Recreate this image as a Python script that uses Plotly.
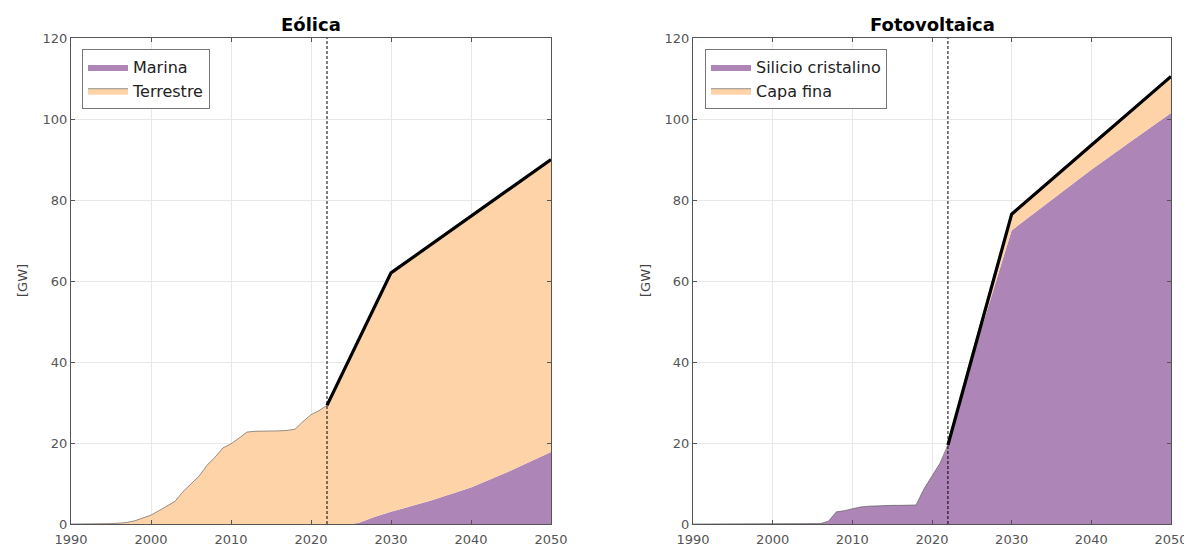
import plotly.graph_objects as go

# ---------------- DATA ----------------
hist_years = list(range(1990, 2023))
future_years_wind = [2025, 2026, 2028, 2030, 2035, 2040, 2045, 2050]
future_years_pv = [2025, 2030, 2035, 2040, 2045, 2050]

wind_onshore_hist = [0, 0, 0, 0, 0.05, 0.1, 0.2, 0.4, 0.8, 1.5,
                     2.2, 3.3, 4.5, 5.6, 8.0, 10.0, 11.8, 14.5, 16.5, 18.8,
                     19.8, 21.2, 22.7, 22.9, 22.9, 22.9, 23.0, 23.1, 23.4, 25.3,
                     27.0, 28.0, 29.3]
wind_offshore_hist = [0] * len(hist_years)
wind_onshore_future = [41.5, 45.3, 52.0, 59.0, 63.2, 67.0, 69.8, 72.2]
wind_offshore_future = [0.0, 0.3, 1.8, 3.0, 5.8, 9.0, 13.2, 17.8]

pv_si_hist = [0] * 16 + [0.1, 0.7, 3.0, 3.3, 3.8, 4.2, 4.4, 4.5, 4.5, 4.6,
                         4.6, 4.6, 4.7, 8.7, 11.8, 15.0, 19.3]
pv_thin_hist = [0] * 32 + [0.3]
pv_si_future = [40.5, 72.5, 80.0, 87.5, 94.5, 101.5]
pv_thin_future = [1.5, 4.0, 5.2, 6.5, 7.7, 9.0]

target_years = [2022, 2030, 2050]
wind_target = [29.3, 62.0, 90.0]
pv_target = [19.5, 76.5, 110.5]

REF_YEAR = 2022

titles = ["Eólica", "Fotovoltaica"]
wind_names = ["Marina", "Terrestre"]
pv_names = ["Silicio cristalino", "Capa fina"]
x_ticks = [1990, 2000, 2010, 2020, 2030, 2040, 2050]
y_ticks = [0, 20, 40, 60, 80, 100, 120]
y_label = "[GW]"

# ---------------- STYLE ----------------
PURPLE = "#AD85B6"
PEACH = "#FED3A8"
EDGE = "rgba(80,80,80,0.75)"
FONT = "DejaVu Sans"
OFF = 8                      # page body margin in the browser
W, H = 1192 - OFF, 551 - OFF


def fx(p):
    return (p - OFF) / W


def fy(p):
    return 1 - (p - OFF) / H


fig = go.Figure()

wx = hist_years + future_years_wind
px = hist_years + future_years_pv

fig.add_trace(go.Scatter(x=wx, y=wind_offshore_hist + wind_offshore_future,
                         name=wind_names[0], stackgroup="wind", mode="lines",
                         line=dict(width=0, color=PURPLE), fillcolor=PURPLE,
                         xaxis="x", yaxis="y", legend="legend"))
fig.add_trace(go.Scatter(x=wx, y=wind_onshore_hist + wind_onshore_future,
                         name=wind_names[1], stackgroup="wind", mode="lines",
                         line=dict(width=0.8, color=EDGE), fillcolor=PEACH,
                         xaxis="x", yaxis="y", legend="legend"))
fig.add_trace(go.Scatter(x=px, y=pv_si_hist + pv_si_future,
                         name=pv_names[0], stackgroup="pv", mode="lines",
                         line=dict(width=0, color=PURPLE), fillcolor=PURPLE,
                         xaxis="x2", yaxis="y2", legend="legend2"))
fig.add_trace(go.Scatter(x=px, y=pv_thin_hist + pv_thin_future,
                         name=pv_names[1], stackgroup="pv", mode="lines",
                         line=dict(width=0.8, color=EDGE), fillcolor=PEACH,
                         xaxis="x2", yaxis="y2", legend="legend2"))

fig.add_trace(go.Scatter(x=target_years, y=wind_target, mode="lines",
                         line=dict(color="black", width=3.2), showlegend=False,
                         xaxis="x", yaxis="y"))
fig.add_trace(go.Scatter(x=target_years, y=pv_target, mode="lines",
                         line=dict(color="black", width=3.2), showlegend=False,
                         xaxis="x2", yaxis="y2"))

for xa, ya in [("x", "y"), ("x2", "y2")]:
    fig.add_shape(type="line", xref=xa, yref=ya, x0=REF_YEAR, x1=REF_YEAR,
                  y0=y_ticks[0], y1=y_ticks[-1], layer="above",
                  line=dict(color="black", width=1, dash="3px,2px"))

ax_common = dict(showline=True, linecolor="#555555", linewidth=1, mirror="ticks",
                 ticks="inside", ticklen=4, tickcolor="#555555", automargin=False,
                 showgrid=True, gridcolor="#e8e8e8", gridwidth=1, zeroline=False,
                 tickfont=dict(family=FONT, size=13, color="#555555"))

ydom = [fy(524), fy(38)]

leg_common = dict(xanchor="left", yanchor="top", traceorder="normal",
                  bgcolor="white", bordercolor="#777777", borderwidth=1,
                  font=dict(family=FONT, size=16, color="#222222"),
                  itemwidth=40, tracegroupgap=0)

fig.update_layout(
    width=W, height=H,
    margin=dict(l=0, r=0, t=0, b=0),
    paper_bgcolor="white", plot_bgcolor="white",
    font=dict(family=FONT),
    xaxis=dict(domain=[fx(71), fx(551)], range=[1990, 2050], tickvals=x_ticks, anchor="y",
               ticklabelstandoff=3, **ax_common),
    yaxis=dict(domain=ydom, range=[0, 120], tickvals=y_ticks, anchor="x", **ax_common),
    xaxis2=dict(domain=[fx(693), fx(1171)], range=[1990, 2050], tickvals=x_ticks, anchor="y2",
                ticklabelstandoff=3, **ax_common),
    yaxis2=dict(domain=ydom, range=[0, 120], tickvals=y_ticks, anchor="x2", **ax_common),
    legend=dict(x=fx(82), y=fy(49), **leg_common),
    legend2=dict(x=fx(705), y=fy(49), **leg_common),
    showlegend=True,
)

for t, xp in zip(titles, [311, 932]):
    fig.add_annotation(xref="paper", yref="paper", x=fx(xp), y=fy(24), text="<b>%s</b>" % t,
                       showarrow=False, xanchor="center", yanchor="middle",
                       font=dict(family=FONT, size=18, color="black"))
for xpix in [22, 645]:
    fig.add_annotation(xref="paper", yref="paper", x=fx(xpix), y=fy(281), text=y_label,
                       textangle=-90, showarrow=False, xanchor="center", yanchor="middle",
                       font=dict(family=FONT, size=13, color="#444444"))

fig.write_html("out.html")
